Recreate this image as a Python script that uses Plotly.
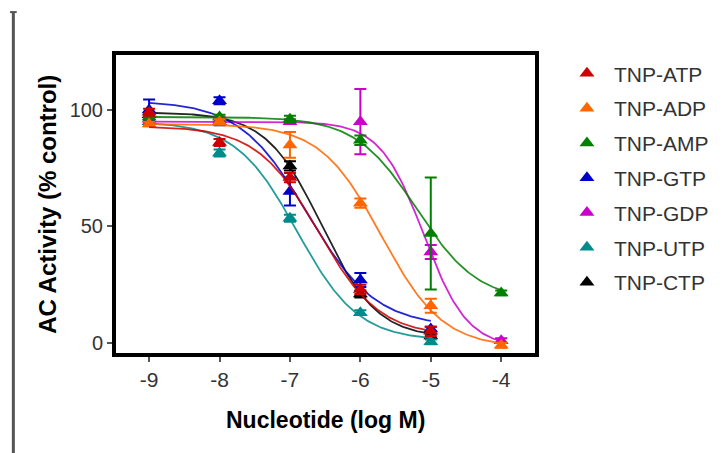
import numpy as np
import plotly.graph_objects as go

# ---- data ----
names = ["TNP-ATP", "TNP-ADP", "TNP-AMP", "TNP-GTP", "TNP-GDP", "TNP-UTP", "TNP-CTP"]
colors = ["#CC0000", "#FF6600", "#008000", "#0000CC", "#CC00CC", "#008B8B", "#000000"]

log_conc = [-9, -8, -7, -6, -5, -4]

atp_mean = [99, 86, 71, 23, 5]
atp_err = [1.5, 1.5, 2, 2, 2]
adp_mean = [94, 95, 85, 60, 16, -1]
adp_err = [1, 1, 5.5, 2, 3, 1]
amp_mean = [97, 97, 96, 87, 47, 21.5]
amp_err = [1, 1, 1.5, 2, 24, 1]
gtp_mean = [100, 104, 65, 27, 6]
gtp_err = [4.5, 1.5, 6, 3, 1]
gdp_mean = [96, 96, 95, 95, 39, 1]
gdp_err = [1, 1, 1, 14, 3, 1]
utp_mean = [95, 81.5, 53.5, 13, 0.5]
utp_err = [1, 1.5, 1.5, 1, 1]
ctp_mean = [98, 95, 76, 21, 3]
ctp_err = [1, 1.5, 2, 1.5, 1]

means = [atp_mean, adp_mean, amp_mean, gtp_mean, gdp_mean, utp_mean, ctp_mean]
errs = [atp_err, adp_err, amp_err, gtp_err, gdp_err, utp_err, ctp_err]

# fitted sigmoidal dose-response parameters
fit_top = [93, 94, 97, 104, 95, 95, 99]
fit_bottom = [3, -2, 18, 7, -2, 1, 2]
fit_logic50 = [-6.6, -5.7, -5.2, -6.75, -5.1, -6.9, -6.55]
fit_hill = [1.0, 1.0, 1.0, 0.9, 1.4, 1.0, 1.1]

x_ticks = [-9, -8, -7, -6, -5, -4]
y_ticks = [0, 50, 100]

fig = go.Figure()

for i in reversed(range(len(names))):
    xs = log_conc[:len(means[i])]
    xc = np.linspace(xs[0], xs[-1], 200)
    yc = fit_bottom[i] + (fit_top[i] - fit_bottom[i]) / (1 + 10 ** ((xc - fit_logic50[i]) * fit_hill[i]))
    fig.add_trace(go.Scatter(x=xc, y=yc, mode="lines",
                             line=dict(color=colors[i], width=1.8),
                             opacity=0.85, showlegend=False, hoverinfo="skip"))
    fig.add_trace(go.Scatter(x=xs, y=means[i], mode="markers", name=names[i],
                             legendgroup=names[i], legendrank=i + 1,
                             marker=dict(symbol="triangle-up", size=13, color=colors[i]),
                             error_y=dict(type="data", array=errs[i], color=colors[i],
                                          thickness=2, width=6)))

fig.update_layout(
    width=725, height=453,
    margin=dict(l=116, r=189, t=55, b=100),
    plot_bgcolor="white", paper_bgcolor="white",
    font=dict(family="Liberation Sans, Arial, sans-serif", color="#333"),
    showlegend=True,
    legend=dict(x=1.057, y=1.006, xanchor="left", yanchor="top",
                traceorder="grouped", tracegroupgap=4.5,
                itemwidth=44, maxheight=440,
                font=dict(size=21, color="#333", family="Liberation Sans, Arial, sans-serif"),
                bgcolor="rgba(0,0,0,0)"),
    xaxis=dict(range=[-9.47, -3.52], tickvals=x_ticks, ticktext=[str(v) for v in x_ticks],
               showgrid=False, zeroline=False, showline=True, linecolor="black",
               linewidth=4, mirror=True, ticks="outside", ticklen=5, tickwidth=2,
               tickcolor="#555", tickfont=dict(size=21, color="#333")),
    yaxis=dict(range=[-4.3, 123.6], tickvals=y_ticks, ticktext=[str(v) for v in y_ticks],
               showgrid=False, zeroline=False, showline=True, linecolor="black",
               linewidth=4, mirror=True, ticks="outside", ticklen=5, tickwidth=2,
               tickcolor="#555", tickfont=dict(size=20, color="#333")),
    annotations=[
        dict(text="<b>Nucleotide (log M)</b>", x=0.5, y=-0.225, xref="paper", yref="paper",
             xanchor="center", yanchor="middle", showarrow=False,
             font=dict(size=23, color="black")),
        dict(text="<b>AC Activity (% control)</b>", x=-0.165, y=0.5, xref="paper", yref="paper",
             xanchor="center", yanchor="middle", showarrow=False, textangle=-90,
             font=dict(size=24, color="black")),
    ],
    shapes=[
        dict(type="line", xref="paper", yref="paper", x0=-0.245, x1=-0.245, y0=1.144, y1=-0.34,
             line=dict(color="#555", width=3)),
        dict(type="line", xref="paper", yref="paper", x0=-0.253, x1=-0.237, y0=1.144, y1=1.144,
             line=dict(color="#555", width=2)),
    ],
)

fig.write_html("out.html")
